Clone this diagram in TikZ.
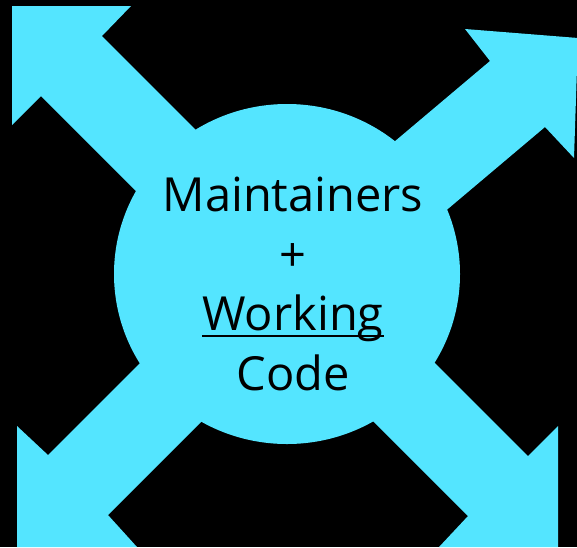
\documentclass[tikz,border=0pt]{standalone}
\usepackage{fontspec}
\setmainfont{Open Sans}
\usetikzlibrary{shapes.geometric}
\definecolor{cyanfill}{RGB}{84,229,255}
\tikzset{
  arrowshape/.style={fill=cyanfill, draw=none},
  hub/.style={ellipse, fill=cyanfill, draw=none, minimum width=346pt, minimum height=340pt, inner sep=0pt},
  hubtext/.style={align=center, font=\fontsize{47}{59.5}\selectfont, text=black, inner sep=0pt}
}
\newcommand{\ulword}[1]{{\setbox0\hbox{#1}\rlap{\rule[-6pt]{\wd0}{2pt}}\box0}}
\begin{document}
\begin{tikzpicture}[x=1pt,y=-1pt]
  \fill[black] (0,0) rectangle (577,547);
  \useasboundingbox (0,0) rectangle (577,547);
  % top-left arrow
  \path[arrowshape] (12,6) -- (131,6) -- (102,36) -- (252,186) -- (191,246) -- (41,96) -- (12,125) -- cycle;
  % top-right arrow
  \path[arrowshape] (578,38) -- (574,158) -- (545,127) -- (401,248.5) -- (346,182.5) -- (490,61) -- (465,29) -- cycle;
  % bottom-left arrow
  \path[arrowshape] (17,547) -- (17,426) -- (48,455) -- (198,305) -- (258,365) -- (108,515) -- (137,547) -- cycle;
  % bottom-right arrow
  \path[arrowshape] (558,547) -- (439,547) -- (468,516) -- (318,366) -- (378,306) -- (528,456) -- (558,426) -- cycle;
  % hub
  \node[hub] (hub) at (287,274) {};
  \node[hubtext, anchor=base] (label) at (293,390) {Maintainers\\+\\\ulword{Working}\\Code};
\end{tikzpicture}
\end{document}
